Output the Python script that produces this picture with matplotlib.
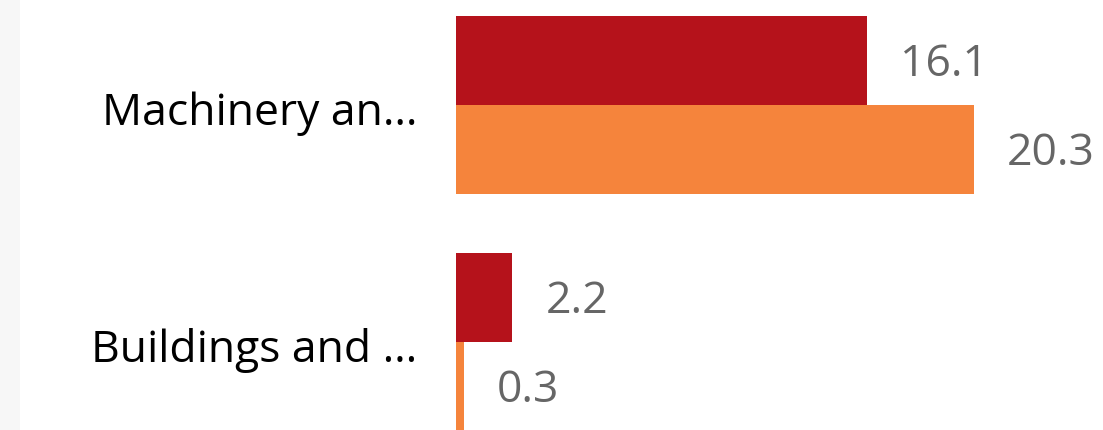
import matplotlib.pyplot as plt
from matplotlib.patches import Rectangle
import matplotlib.transforms as mtransforms
import numpy as np

# data
categories = ["Machinery an…", "Buildings and …"]
serie_a = [16.1, 2.2]   # red
serie_b = [20.3, 0.3]   # orange
colors = ["#B5121B", "#F5843C"]

plt.rcParams["font.family"] = ["Open Sans", "DejaVu Sans"]

fig = plt.figure(figsize=(11.03, 4.30), dpi=100)
fig.patches.append(Rectangle((0, 0), 20 / 1103, 1, transform=fig.transFigure,
                             facecolor="#F7F7F7", edgecolor="none", zorder=0))
ax = fig.add_axes([456 / 1103, 0, 647 / 1103, 1])

y = np.arange(len(categories))
h = 89 / 237
ax.barh(y - h / 2, serie_a, height=h, color=colors[0])
ax.barh(y + h / 2, serie_b, height=h, color=colors[1])

for serie, off in [(serie_a, -h / 2), (serie_b, h / 2)]:
    for yi, v in zip(y, serie):
        ax.annotate(f"{v:.1f}", (v, yi + off), xytext=(24, -3), textcoords="offset points",
                    ha="left", va="center", fontsize=32, color="#666666")

ax.set_xlim(0, 647 / 25.5)
ax.set_ylim(1 + 88 / 237, -105 / 237)
ax.set_yticks(y)
ax.set_yticklabels(categories, fontsize=32, color="black", va="center")
ax.tick_params(axis="y", length=0, pad=28)
# schuif de categorielabels iets omlaag
shift = mtransforms.ScaledTranslation(0, -6 / 72, fig.dpi_scale_trans)
for lbl in ax.get_yticklabels():
    lbl.set_transform(lbl.get_transform() + shift)
ax.set_xticks([])
for s in ax.spines.values():
    s.set_visible(False)

fig.savefig("out.png", dpi=100)
